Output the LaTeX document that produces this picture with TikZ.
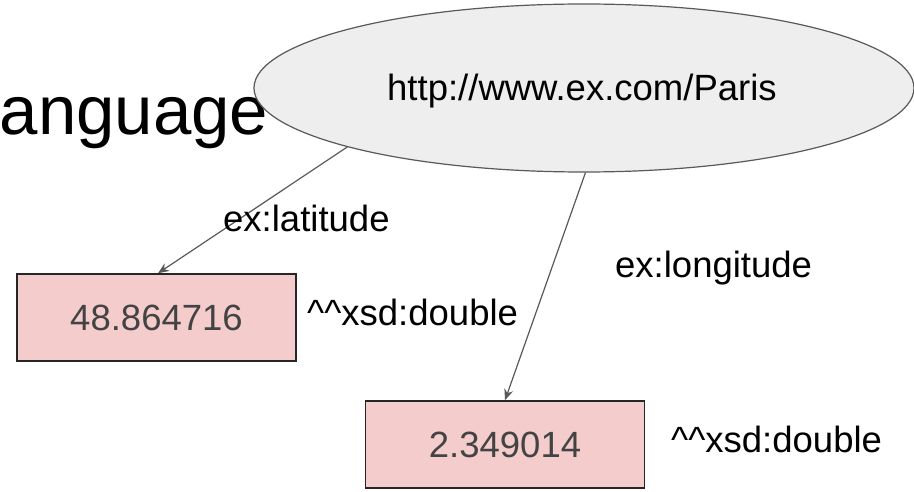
\documentclass[tikz,border=0pt]{standalone}
\usepackage{fontspec}
\setmainfont{Liberation Sans}
\usetikzlibrary{shapes.geometric,arrows.meta}
\definecolor{edgegray}{HTML}{595959}
\definecolor{nodegray}{HTML}{EEEEEE}
\definecolor{litpink}{HTML}{F4CCCC}
\definecolor{littext}{HTML}{434343}
\tikzset{
  resource/.style={ellipse, draw=edgegray, line width=1.2pt, fill=nodegray,
    minimum width=660pt, minimum height=168pt, inner sep=0pt,
    font=\fontsize{36.5}{40}\selectfont},
  literal/.style={rectangle, draw=black!85, line width=1.5pt, fill=litpink,
    minimum width=279pt, minimum height=87pt, inner sep=0pt,
    text=littext, font=\fontsize{36.5}{40}\selectfont},
  lbl/.style={inner sep=0pt, anchor=base west, font=\fontsize{36.5}{40}\selectfont},
  rel/.style={draw=edgegray, line width=1.2pt,
    -{Stealth[length=11pt,width=9pt]}}
}
\begin{document}
\begin{tikzpicture}[x=1pt,y=-1pt]
  \useasboundingbox (0,0) rectangle (914,492);
  \clip (0,0) rectangle (914,492);
  \fill[white] (0,0) rectangle (914,492);

  % slide title fragment
  \node[inner sep=0pt, anchor=base east, font=\fontsize{69}{75}\selectfont]
    (title) at (268.5,135) {anguage};

  % subject resource
  \node[resource] (paris) at (584,88) {};
  \node[lbl] (uri) at (387,101) {http://www.ex.com/Paris};

  % literal values
  \node[literal] (lat) at (156.5,317.5) {48.864716};
  \node[literal] (lon) at (505,444.5) {2.349014};

  % datatype annotations
  \node[lbl] (dt1) at (307,325) {\^{}\^{}xsd:double};
  \node[lbl] (dt2) at (671,452) {\^{}\^{}xsd:double};

  % predicates
  \coordinate (latstart) at (paris.194.2);
  \coordinate (lonstart) at (paris.271.4);
  \coordinate (latend) at ([xshift=1.5pt]lat.north);
  \coordinate (lonend) at (lon.north);
  \draw[rel] (latstart) -- (latend);
  \draw[rel] (lonstart) -- (lonend);
  \node[lbl] (p1) at (223,232) {ex:latitude};
  \node[lbl] (p2) at (615,277) {ex:longitude};
\end{tikzpicture}
\end{document}
